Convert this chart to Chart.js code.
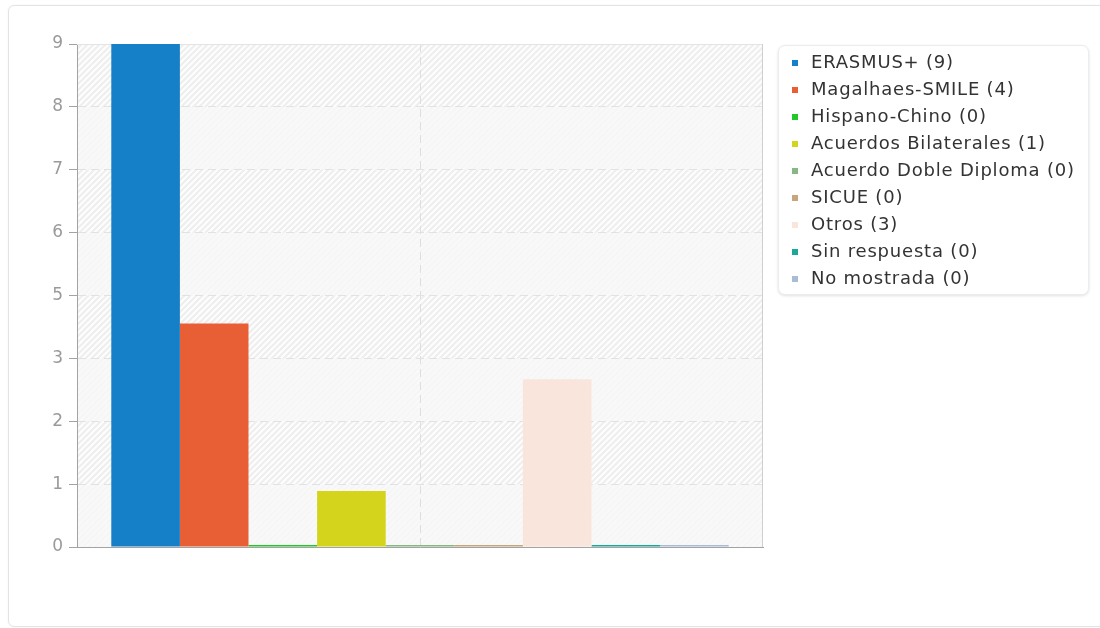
<!DOCTYPE html>
<html>
<head>
<meta charset="utf-8">
<title>Programa de movilidad</title>
<script src="https://cdn.jsdelivr.net/npm/chart.js@4.4.0/dist/chart.umd.min.js"></script>
<style>
  body { margin: 0; background: #fff; font-family: "DejaVu Sans", sans-serif; }
  #card { position: absolute; left: 8px; top: 5px; width: 1120px; height: 620px; border: 1px solid #e3e3e3; border-radius: 6px; box-shadow: 0 0 2px rgba(0,0,0,0.05); }
  #myBarChart { position: absolute; left: 0; top: 0; }
  #leyenda { position: absolute; left: 778px; top: 45px; width: 311px; height: 250px; background: #fff; border: 1px solid #ececec; border-radius: 7px; box-shadow: 0 1px 3px rgba(0,0,0,0.12); box-sizing: border-box; padding-top: 2px; }
  #leyenda div { height: 27px; line-height: 27px; font-size: 18px; letter-spacing: 0.8px; color: #333; white-space: nowrap; position: relative; padding-left: 32px; }
  #leyenda span { position: absolute; left: 13px; top: 12px; width: 6px; height: 6px; }
</style>
</head>
<body>
<div id="card"></div>
<canvas id="myBarChart" width="1100" height="628"></canvas>
<div id="leyenda"></div>
<script>
// Programa de movilidad - una barra por programa
const programas = ['ERASMUS+', 'Magalhaes-SMILE', 'Hispano-Chino', 'Acuerdos Bilaterales', 'Acuerdo Doble Diploma', 'SICUE', 'Otros', 'Sin respuesta', 'No mostrada'];
const respuestas = [9, 4, 0, 1, 0, 0, 3, 0, 0];
const colores = ['#1580c8', '#e85f35', '#22c828', '#d4d41c', '#86b882', '#c8a67c', '#fae5dc', '#1aa89a', '#a8bcd8'];
const yMax = 9;
const yStep = 1.125; // 8 divisiones, etiquetas redondeadas

const datasets = [];
for (let i = 0; i < programas.length; i++) {
    datasets.push({
        label: programas[i] + ' (' + respuestas[i] + ')',
        data: [respuestas[i]],
        backgroundColor: colores[i],
        borderWidth: 0,
        minBarLength: 2,
        categoryPercentage: 0.9,
        barPercentage: 1.0
    });
}

// fondo rayado con bandas alternas
const fondo = {
    id: 'fondo',
    beforeDraw(chart) {
        const {ctx, chartArea: a, scales: {y}} = chart;
        const pat = document.createElement('canvas');
        pat.width = 6; pat.height = 6;
        const p = pat.getContext('2d');
        p.fillStyle = '#fdfdfd';
        p.fillRect(0, 0, 6, 6);
        p.strokeStyle = '#eeeeee';
        p.lineWidth = 2;
        p.beginPath();
        p.moveTo(0, 6); p.lineTo(6, 0);
        p.moveTo(-3, 3); p.lineTo(3, -3);
        p.moveTo(3, 9); p.lineTo(9, 3);
        p.stroke();
        ctx.save();
        ctx.fillStyle = ctx.createPattern(pat, 'repeat');
        ctx.fillRect(a.left, a.top, a.width, a.height);
        const ticks = y.ticks;
        for (let i = 0; i < ticks.length - 1; i += 2) {
            const y0 = y.getPixelForValue(ticks[i].value);
            const y1 = y.getPixelForValue(ticks[i + 1].value);
            ctx.fillStyle = 'rgba(247, 247, 247, 0.8)';
            ctx.fillRect(a.left, y1, a.width, y0 - y1);
        }
        ctx.restore();
    },
    beforeDatasetsDraw(chart) {
        const {ctx, chartArea: a} = chart;
        ctx.save();
        ctx.lineWidth = 1;
        ctx.strokeStyle = '#e4e4e4';
        ctx.beginPath();
        ctx.moveTo(a.left, a.top + 0.5); ctx.lineTo(a.right, a.top + 0.5);
        ctx.stroke();
        ctx.strokeStyle = '#cfcfcf';
        ctx.beginPath();
        ctx.moveTo(a.right - 0.5, a.top); ctx.lineTo(a.right - 0.5, a.bottom);
        ctx.stroke();
        ctx.restore();
    }
};

new Chart(document.getElementById('myBarChart'), {
    type: 'bar',
    data: {
        labels: [''],
        datasets: datasets
    },
    options: {
        responsive: false,
        animation: false,
        layout: {
            padding: {top: 44, right: 337, bottom: 81, left: 0}
        },
        scales: {
            x: {
                grid: {
                    offset: false,
                    color: '#dedede',
                    drawTicks: false
                },
                border: {color: '#a3a3a3', dash: [8, 5]},
                ticks: {display: false},
                afterFit(s) { s.height = 0; }
            },
            y: {
                min: 0,
                max: yMax,
                ticks: {
                    stepSize: yStep,
                    callback: v => Math.round(v),
                    color: '#9a9a9a',
                    padding: 6,
                    font: {family: 'DejaVu Sans', size: 17}
                },
                grid: {
                    color: '#e2e2e2',
                    tickColor: '#a3a3a3',
                    tickLength: 8
                },
                border: {color: '#a3a3a3', dash: [8, 5]},
                afterFit(s) { s.width = 77; }
            }
        },
        plugins: {
            legend: {display: false},
            tooltip: {enabled: false}
        }
    },
    plugins: [fondo]
});

// leyenda
const leyenda = document.getElementById('leyenda');
for (let i = 0; i < programas.length; i++) {
    const item = document.createElement('div');
    const marca = document.createElement('span');
    marca.style.background = colores[i];
    item.appendChild(marca);
    item.appendChild(document.createTextNode(programas[i] + ' (' + respuestas[i] + ')'));
    leyenda.appendChild(item);
}
</script>
</body>
</html>
